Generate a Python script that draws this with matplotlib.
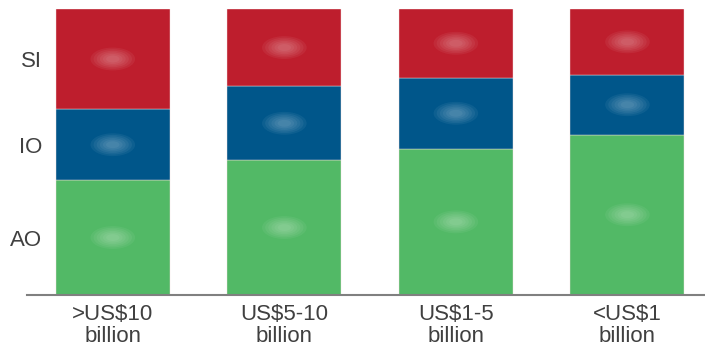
import matplotlib
matplotlib.use('Agg')
import matplotlib.pyplot as plt
from matplotlib.patches import Ellipse

categorias = ['>US$10\nbillion', 'US$5-10\nbillion', 'US$1-5\nbillion', '<US$1\nbillion']
ao = [40, 47, 51, 56]
io = [25, 26, 25, 21]
si = [35, 27, 24, 23]
series = ['AO', 'IO', 'SI']

colores = ['#52B966', '#00568A', '#BE1E2D']
gris = '#404040'

plt.rcParams['font.family'] = ['Liberation Sans', 'DejaVu Sans']

fig = plt.figure(figsize=(7.05, 3.48), dpi=100)
ax = fig.add_axes([27 / 705, (348 - 294.7) / 348, 1 - 27 / 705, (294.7 - 9) / 348])

x = list(range(len(categorias)))
base = [0] * len(categorias)
for valores, color in zip([ao, io, si], colores):
    ax.bar(x, valores, bottom=base, width=0.665, color=color,
           edgecolor='#f2dede', linewidth=0.3)
    # etiquetas de datos difuminadas (como en el original)
    for xi, b, v in zip(x, base, valores):
        yc = b + v / 2
        for k in range(6):
            f = 1 - k * 0.14
            ax.add_patch(Ellipse((xi, yc), 0.26 * f, 8 * f, color='white',
                                 alpha=0.055, linewidth=0))
    base = [b + v for b, v in zip(base, valores)]

# nombres de las series a la izquierda, centrados en la primera barra
b = 0
for nombre, v in zip(series, [ao[0], io[0], si[0]]):
    ax.text(-0.41, b + v / 2 - 1.0, nombre, ha='right', va='center',
            fontsize=16, color=gris)
    b += v

ax.set_xlim(-0.5, 3.452)
ax.set_ylim(0, 100)
ax.set_xticks(x)
ax.set_xticklabels(categorias, fontsize=16, color=gris, linespacing=1.05)
ax.tick_params(axis='x', length=0, pad=7)
ax.set_yticks([])
for lado in ['top', 'right', 'left']:
    ax.spines[lado].set_visible(False)
ax.spines['bottom'].set_color('#808080')
ax.spines['bottom'].set_linewidth(1.5)

fig.savefig('out.png', dpi=100)
